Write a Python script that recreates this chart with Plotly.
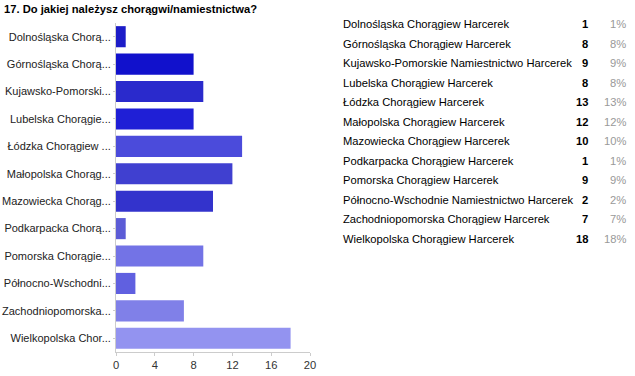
import plotly.graph_objects as go

categories = [
    "Dolnośląska Chorągiew Harcerek",
    "Górnośląska Chorągiew Harcerek",
    "Kujawsko-Pomorskie Namiestnictwo Harcerek",
    "Lubelska Chorągiew Harcerek",
    "Łódzka Chorągiew Harcerek",
    "Małopolska Chorągiew Harcerek",
    "Mazowiecka Chorągiew Harcerek",
    "Podkarpacka Chorągiew Harcerek",
    "Pomorska Chorągiew Harcerek",
    "Północno-Wschodnie Namiestnictwo Harcerek",
    "Zachodniopomorska Chorągiew Harcerek",
    "Wielkopolska Chorągiew Harcerek",
]
short_labels = [
    "Dolnośląska Chorą...",
    "Górnośląska Chorą...",
    "Kujawsko-Pomorski...",
    "Lubelska Chorągie...",
    "Łódzka Chorągiew ...",
    "Małopolska Chorąg...",
    "Mazowiecka Chorąg...",
    "Podkarpacka Chorą...",
    "Pomorska Chorągie...",
    "Północno-Wschodni...",
    "Zachodniopomorska...",
    "Wielkopolska Chor...",
]
counts = [1, 8, 9, 8, 13, 12, 10, 1, 9, 2, 7, 18]
percents = ["1%", "8%", "9%", "8%", "13%", "12%", "10%", "1%", "9%", "2%", "7%", "18%"]
bar_colors = [
    "#1c1cc8", "#1111cc", "#2a2acc", "#1f1fd6", "#4b4bdb", "#4040d0",
    "#3333cc", "#5c5cd6", "#7373e6", "#6060e0", "#8080e8", "#9393f0",
]
x_ticks = [0, 4, 8, 12, 16, 20]

W, H = 635, 376
L, R, T, B = 116, 325, 23, 24
PW = W - L - R
PH = H - T - B

def px_x(px):
    return (px - L) / PW

def px_y(py):
    return 1 - (py - T) / PH

fig = go.Figure()
fig.add_trace(go.Bar(
    x=counts,
    y=short_labels,
    orientation="h",
    marker=dict(color=bar_colors, line=dict(width=0)),
    width=0.77,
    hoverinfo="x+y",
))

FONT = "Liberation Sans, Arial, sans-serif"
FS = 11.2
annotations = [
    dict(text="<b>17. Do jakiej należysz chorągwi/namiestnictwa?</b>",
         xref="paper", yref="paper", x=px_x(2), y=px_y(9),
         xanchor="left", yanchor="middle", showarrow=False,
         font=dict(family=FONT, size=11.2, color="#000000")),
]
row_y0, row_step = 24, 19.5
for i, (name, c, p) in enumerate(zip(categories, counts, percents)):
    yy = px_y(row_y0 + i * row_step)
    annotations.append(dict(text=name, xref="paper", yref="paper", x=px_x(341), y=yy,
                            xanchor="left", yanchor="middle", showarrow=False,
                            font=dict(family=FONT, size=FS, color="#000000")))
    annotations.append(dict(text=f"<b>{c}</b>", xref="paper", yref="paper", x=px_x(590), y=yy,
                            xanchor="right", yanchor="middle", showarrow=False,
                            font=dict(family=FONT, size=FS, color="#000000")))
    annotations.append(dict(text=p, xref="paper", yref="paper", x=px_x(628), y=yy,
                            xanchor="right", yanchor="middle", showarrow=False,
                            font=dict(family=FONT, size=FS, color="#999999")))

fig.update_layout(
    width=W, height=H,
    margin=dict(l=L, r=R, t=T, b=B, pad=0, autoexpand=False),
    paper_bgcolor="#ffffff", plot_bgcolor="#ffffff",
    showlegend=False,
    annotations=annotations,
    font=dict(family=FONT, size=FS, color="#222222"),
    xaxis=dict(range=[0, 20], tickvals=x_ticks, showgrid=False, zeroline=False,
               showline=True, linecolor="#cccccc", linewidth=1,
               ticks="outside", ticklen=3, tickcolor="#cccccc", automargin=False,
               tickfont=dict(family=FONT, size=FS, color="#333333"), fixedrange=True),
    yaxis=dict(autorange="reversed", showgrid=False, zeroline=False,
               showline=True, linecolor="#cccccc", linewidth=1,
               ticks="outside", ticklen=2, tickcolor="#cccccc", automargin=False,
               tickfont=dict(family=FONT, size=11, color="#222222"), fixedrange=True),
    bargap=0.23,
)

fig.write_html(
    "out.html",
    config={"displayModeBar": False},
    post_script="document.body.style.margin='0';document.body.style.overflow='hidden';",
)
